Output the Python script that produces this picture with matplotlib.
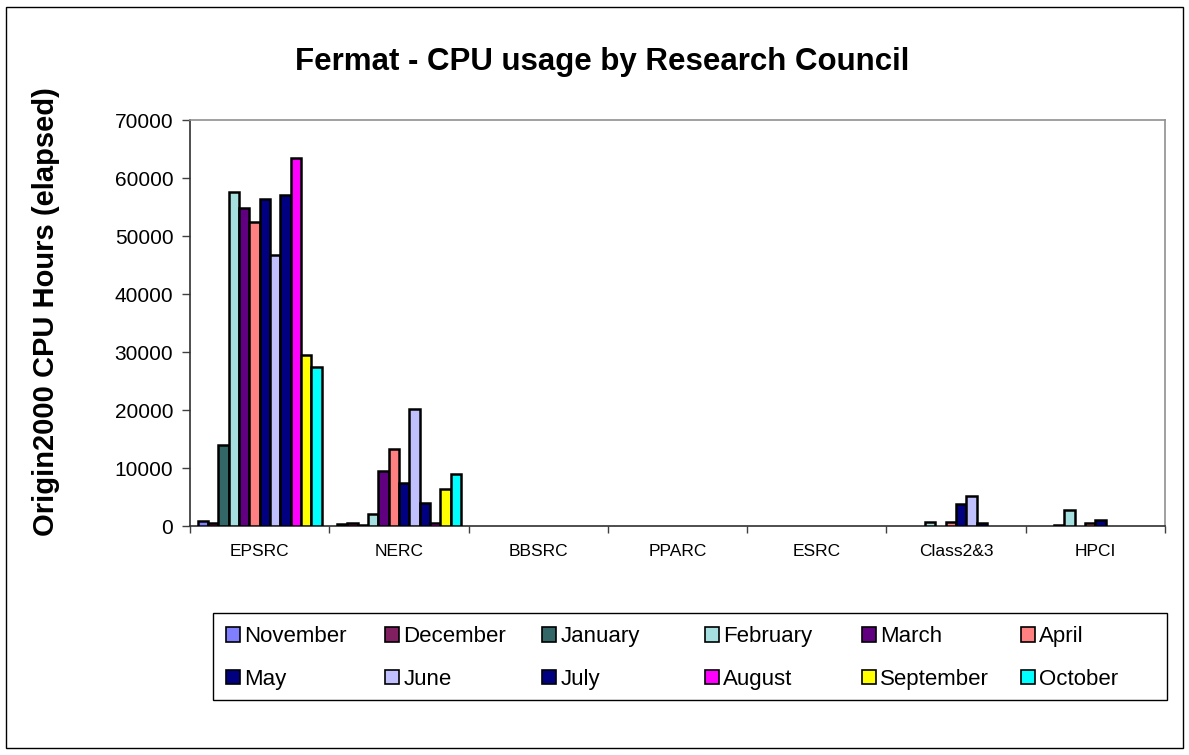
# -------------------------------------------------------------
# Import libraries
# -------------------------------------------------------------
import numpy as np
import matplotlib
matplotlib.use("Agg")
import matplotlib.pyplot as plt
from matplotlib.patches import Rectangle


# -------------------------------------------------------------
# Data (CPU hours)
# -------------------------------------------------------------
councils = ["EPSRC", "NERC", "BBSRC", "PPARC", "ESRC", "Class2&3", "HPCI"]
months = ["November", "December", "January", "February", "March", "April",
          "May", "June", "July", "August", "September", "October"]

epsrc = [900, 500, 13900, 57600, 54900, 52500, 56400, 46700, 57000, 63400, 29500, 27400]
nerc = [300, 600, 200, 2000, 9500, 13300, 7400, 20200, 4000, 600, 6400, 8900]
bbsrc = [0, 0, 0, 0, 0, 0, 0, 0, 0, 0, 0, 0]
pparc = [0, 0, 0, 0, 0, 0, 0, 0, 0, 0, 0, 0]
esrc = [0, 0, 0, 0, 0, 0, 0, 0, 0, 0, 0, 0]
class23 = [0, 0, 0, 700, 0, 700, 3800, 5200, 600, 0, 0, 0]
hpci = [0, 0, 150, 2800, 0, 600, 1000, 0, 0, 0, 0, 0]

month_colors = ["#8080FF", "#802060", "#336666", "#A6DFDF", "#600080", "#FF8080",
                "#000080", "#C0C0FF", "#000080", "#FF00FF", "#FFFF00", "#00FFFF"]

y_ticks = [0, 10000, 20000, 30000, 40000, 50000, 60000, 70000]


# -------------------------------------------------------------
# Figure setup
# -------------------------------------------------------------
plt.rcParams['font.family'] = ['Liberation Sans', 'DejaVu Sans']

fig = plt.figure(figsize=(11.89, 7.55), dpi=100)
W, H = 1189.0, 755.0
ax = fig.add_axes([190 / W, 1 - 526 / H, (1165 - 190) / W, (526 - 120) / H])

# matrix: rows = councils, columns = months
values = np.array([epsrc, nerc, bbsrc, pparc, esrc, class23, hpci])
n_series = len(months)
bar_w = 1.0 / (n_series + 1.5)   # excel gap width 150 %
x = np.arange(len(councils))

handles = []
for k, month in enumerate(months):
    heights = values[:, k]
    edges = ["black" if h > 0 else "none" for h in heights]
    bars = ax.bar(x + (k - (n_series - 1) / 2) * bar_w, heights, width=bar_w,
                  color=month_colors[k], edgecolor=edges, linewidth=1.8,
                  label=month, zorder=3)
    handles.append(bars)


# -------------------------------------------------------------
# Axes styling
# -------------------------------------------------------------
ax.set_xlim(-0.5, len(councils) - 0.5)
ax.set_ylim(0, 70000)
ax.set_yticks(y_ticks)
ax.set_yticklabels([str(t) for t in y_ticks], fontsize=15)
ax.tick_params(axis='y', direction='out', length=6, width=1, color='#404040', pad=6)

# category boundaries as major ticks, names as minor ticks
ax.set_xticks(np.arange(len(councils) + 1) - 0.5)
ax.set_xticklabels([])
ax.set_xticks(x, minor=True)
ax.set_xticklabels(councils, minor=True, fontsize=12.5)
ax.tick_params(axis='x', which='major', direction='out', length=5, width=1, color='#404040')
ax.tick_params(axis='x', which='minor', length=0, pad=13)

ax.spines['left'].set_color('#303030')
ax.spines['bottom'].set_color('#303030')
ax.spines['top'].set_color('#909090')
ax.spines['right'].set_color('#909090')
for s in ax.spines.values():
    s.set_linewidth(1.2)

# titles
fig.text(602 / W, 1 - 62 / H, "Fermat - CPU usage by Research Council",
         fontsize=22.5, fontweight='bold', ha='center', va='center')
fig.text(46 / W, 1 - 312 / H, "Origin2000 CPU Hours (elapsed)",
         fontsize=21, fontweight='bold', rotation=90, ha='center', va='center')


# -------------------------------------------------------------
# Legend: excel puts items row-wise in equal-width columns,
# so every column is its own frameless legend
# -------------------------------------------------------------
ncol = 6
col_left = [226, 385, 542, 705, 862, 1021]   # pixel x of the marker in each column
for c in range(ncol):
    leg = fig.legend([handles[c], handles[c + ncol]], [months[c], months[c + ncol]],
                     loc='center left', bbox_to_anchor=(col_left[c] / W, 1 - 658 / H),
                     fontsize=16, frameon=False, borderpad=0, borderaxespad=0,
                     handlelength=0.62, handleheight=0.62, handletextpad=0.2,
                     labelspacing=0.95)
    for p in leg.get_patches():
        p.set_edgecolor('black')
        p.set_linewidth(1.2)

fig.patches.append(Rectangle((213 / W, 1 - 700 / H), (1167 - 213) / W, (700 - 613) / H,
                             transform=fig.transFigure, fill=False,
                             edgecolor='black', linewidth=1.0))

# outer chart border
fig.patches.append(Rectangle((6 / W, 7 / H), (1183 - 6) / W, (748 - 7) / H,
                             transform=fig.transFigure, fill=False,
                             edgecolor='black', linewidth=1.0))

fig.savefig("out.png", dpi=100)
